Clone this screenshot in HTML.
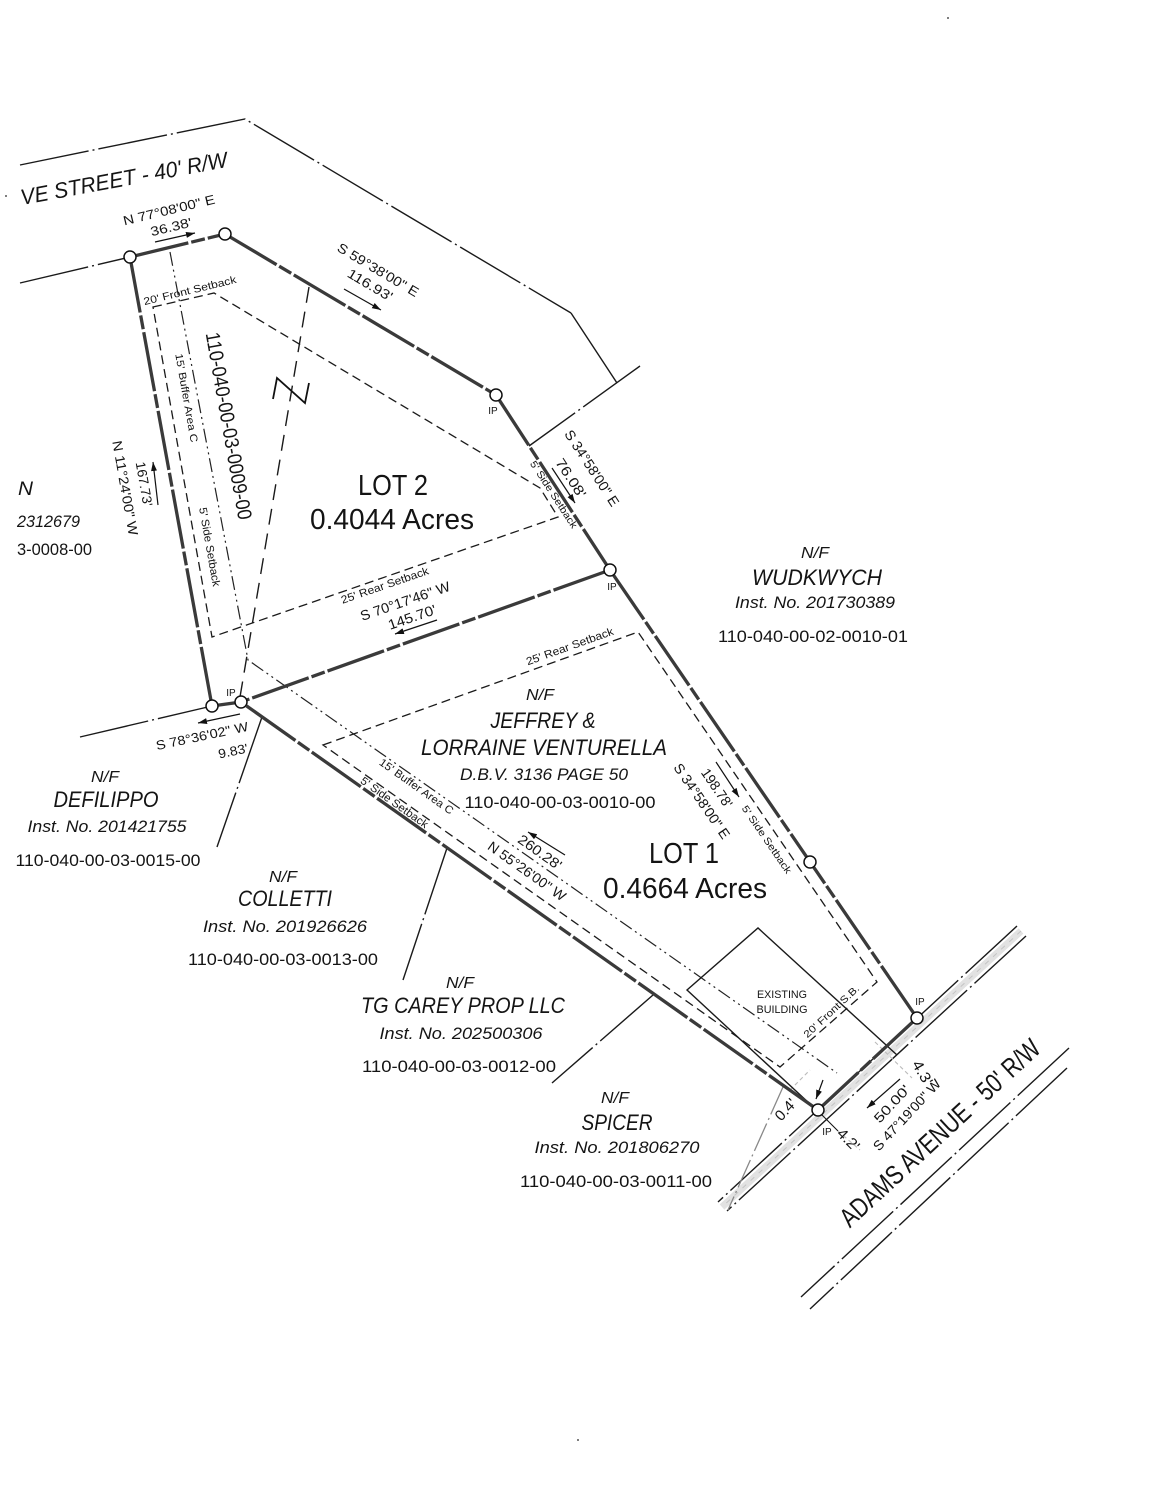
<!DOCTYPE html>
<html>
<head>
<meta charset="utf-8">
<style>
html,body{margin:0;padding:0;background:#fff;}
svg{display:block;}
text{font-family:"Liberation Sans",sans-serif;fill:#141414;}
.it{font-style:italic;}
.r{dominant-baseline:central;text-anchor:middle;}
.c{text-anchor:middle;}
</style>
</head>
<body>
<svg width="1159" height="1500" viewBox="0 0 1159 1500" xmlns="http://www.w3.org/2000/svg">
<defs>
<marker id="ah" markerUnits="userSpaceOnUse" markerWidth="10" markerHeight="8" refX="9" refY="4" orient="auto"><path d="M0,1 L9,4 L0,7 z" fill="#111"/></marker>
</defs>
<rect width="1159" height="1500" fill="#fff"/>

<!-- sidewalk grey band -->
<path d="M1021,931 L722,1207" stroke="#e2e2e2" stroke-width="7" fill="none"/>
<path d="M1021,931 L722,1207" stroke="#c4c4c4" stroke-width="1" stroke-dasharray="5 6" fill="none"/>

<!-- R/W and lot lines (dash-dot) -->
<g fill="none" stroke="#1a1a1a" stroke-width="1.4" stroke-dasharray="70 4 2 4">
  <path d="M20,165 L245,119 L571,313"/>
  <path d="M20,283 L130,257"/>
  <path d="M80,737 L212,706"/>
  <path d="M640,366 L529,446"/>
  <path d="M262,717 L217,847"/>
  <path d="M447,848 L403,980"/>
  <path d="M653,995 L552,1083"/>
  <path d="M1017,926 L718,1202"/>
  <path d="M1026,936 L727,1211"/>
  <path d="M1069,1048 L801,1297"/>
  <path d="M1067,1068 L810,1309"/>
</g>
<path d="M783,1087 L728,1210" stroke="#888" stroke-width="1.3" stroke-dasharray="30 4 2 4" fill="none"/>
<path d="M571,313 L617,383" stroke="#1a1a1a" stroke-width="1.4" fill="none"/>
<g stroke="#bbb" stroke-width="1.1" stroke-dasharray="4 3" fill="none">
  <path d="M875,1042 L912,1078"/>
  <path d="M838,1131 L860,1150"/>
  <path d="M790,1090 L810,1070"/>
</g>

<!-- setbacks -->
<g fill="none" stroke="#1a1a1a" stroke-width="1.3" stroke-dasharray="9 5">
  <path d="M153,307 L214,293 L540,488 L558,517 L212,637 Z"/>
  <path d="M323,745 L638,632 L877,982 L780,1067 Z"/>
</g>

<!-- buffer -->
<path d="M170,252 L248,660 L837,1073" fill="none" stroke="#222" stroke-width="1.2" stroke-dasharray="14 4 2 4 2 4"/>

<!-- north line and symbol -->
<path d="M309,287 L240,697" fill="none" stroke="#1a1a1a" stroke-width="1.4" stroke-dasharray="16 9"/>
<path d="M273,399 L277,378 L305,403 L309,383" fill="none" stroke="#111" stroke-width="1.8"/>

<!-- building -->
<path d="M897,1055 L758,928 L687,990 L810,1104" fill="none" stroke="#1a1a1a" stroke-width="1.4"/>

<!-- boundary -->
<g fill="none" stroke="#3a3a3a" stroke-width="3.3" stroke-dasharray="60 3 14 3">
  <path d="M130,257 L225,234"/>
  <path d="M225,234 L496,395"/>
  <path d="M496,395 L610,570"/>
  <path d="M610,570 L917,1018"/>
  <path d="M917,1018 L818,1110"/>
  <path d="M818,1110 L241,702"/>
  <path d="M241,702 L212,706"/>
  <path d="M212,706 L130,257"/>
  <path d="M610,570 L241,702"/>
</g>

<!-- dimension arrows -->
<g fill="none" stroke="#111" stroke-width="1.2" marker-end="url(#ah)">
  <path d="M155,242 L195,233"/>
  <path d="M344,289 L381,310"/>
  <path d="M158,505 L153,462"/>
  <path d="M437,620 L395,634"/>
  <path d="M552,468 L575,503"/>
  <path d="M716,762 L739,797"/>
  <path d="M565,855 L528,832"/>
  <path d="M240,714 L198,723"/>
  <path d="M900,1079 L867,1108"/>
  <path d="M823,1080 L816,1099"/>
</g>
<path d="M817,1110 L838,1131" stroke="#111" stroke-width="1.1"/>

<!-- nodes -->
<g fill="#fff" stroke="#111" stroke-width="1.5">
  <circle cx="130" cy="257" r="6"/>
  <circle cx="225" cy="234" r="6"/>
  <circle cx="496" cy="395" r="6"/>
  <circle cx="610" cy="570" r="6"/>
  <circle cx="810" cy="862" r="6"/>
  <circle cx="917" cy="1018" r="6"/>
  <circle cx="818" cy="1110" r="6"/>
  <circle cx="241" cy="702" r="6"/>
  <circle cx="212" cy="706" r="6"/>
</g>

<!-- street text -->
<text transform="translate(22,205) rotate(-10.5)" font-size="22" textLength="210" lengthAdjust="spacingAndGlyphs" class="it">VE STREET  -  40' R/W</text>

<!-- top boundary dims -->
<text class="r" transform="translate(169,210) rotate(-13.6)" font-size="13" textLength="94" lengthAdjust="spacingAndGlyphs">N 77°08'00" E</text>
<text class="r" transform="translate(171,227) rotate(-13.6)" font-size="13" textLength="42" lengthAdjust="spacingAndGlyphs">36.38'</text>
<text class="r" transform="translate(378,270) rotate(30.7)" font-size="13.5" textLength="92" lengthAdjust="spacingAndGlyphs">S 59°38'00" E</text>
<text class="r" transform="translate(370,285) rotate(30.7)" font-size="13.5" textLength="50" lengthAdjust="spacingAndGlyphs">116.93'</text>
<text class="r" transform="translate(190,291) rotate(-13.6)" font-size="10.5" textLength="95" lengthAdjust="spacingAndGlyphs">20' Front Setback</text>

<!-- lot 2 vertical texts -->
<text class="r" transform="translate(228,426) rotate(80)" font-size="20" textLength="190" lengthAdjust="spacingAndGlyphs">110-040-00-03-0009-00</text>
<text class="r" transform="translate(186,398) rotate(80)" font-size="10.5" textLength="90" lengthAdjust="spacingAndGlyphs">15' Buffer Area C</text>
<text class="r" transform="translate(209,547) rotate(80)" font-size="11" textLength="80" lengthAdjust="spacingAndGlyphs">5' Side Setback</text>
<text class="r" transform="translate(125,488) rotate(80)" font-size="13.5" textLength="96" lengthAdjust="spacingAndGlyphs">N 11°24'00" W</text>
<text class="r" transform="translate(144,484) rotate(80)" font-size="13.5" textLength="45" lengthAdjust="spacingAndGlyphs">167.73'</text>

<!-- lot 2 -->
<text class="c" x="393" y="495" font-size="29" textLength="70" lengthAdjust="spacingAndGlyphs">LOT 2</text>
<text class="c" x="392" y="529" font-size="29" textLength="164" lengthAdjust="spacingAndGlyphs">0.4044 Acres</text>
<text class="r" transform="translate(385,586) rotate(-19)" font-size="11" textLength="92" lengthAdjust="spacingAndGlyphs">25' Rear Setback</text>
<text class="r" transform="translate(405,601) rotate(-19)" font-size="14" textLength="94" lengthAdjust="spacingAndGlyphs">S 70°17'46" W</text>
<text class="r" transform="translate(412,617) rotate(-19)" font-size="14" textLength="50" lengthAdjust="spacingAndGlyphs">145.70'</text>

<!-- C-D dims -->
<text class="r" transform="translate(592,468) rotate(57)" font-size="14" textLength="88" lengthAdjust="spacingAndGlyphs">S 34°58'00" E</text>
<text class="r" transform="translate(571,478) rotate(57)" font-size="14" textLength="44" lengthAdjust="spacingAndGlyphs">76.08'</text>
<text class="r" transform="translate(553,495) rotate(57)" font-size="10" textLength="78" lengthAdjust="spacingAndGlyphs">5' Side Setback</text>

<!-- IP labels -->
<text class="c" x="493" y="414" font-size="10">IP</text>
<text class="c" x="612" y="590" font-size="10">IP</text>
<text class="c" x="231" y="696" font-size="10">IP</text>
<text class="c" x="920" y="1005" font-size="10">IP</text>
<text class="c" x="827" y="1135" font-size="10">IP</text>

<!-- Wudkwych -->
<text class="c it" x="815" y="558" font-size="16" textLength="28" lengthAdjust="spacingAndGlyphs">N/F</text>
<text class="c it" x="817" y="585" font-size="22" textLength="130" lengthAdjust="spacingAndGlyphs">WUDKWYCH</text>
<text class="c it" x="815" y="608" font-size="17" textLength="160" lengthAdjust="spacingAndGlyphs">Inst. No. 201730389</text>
<text class="c" x="813" y="642" font-size="17" textLength="190" lengthAdjust="spacingAndGlyphs">110-040-00-02-0010-01</text>

<!-- Lot 1 / Venturella -->
<text class="r" transform="translate(570,647) rotate(-19.7)" font-size="11" textLength="92" lengthAdjust="spacingAndGlyphs">25' Rear Setback</text>
<text class="c it" x="540" y="700" font-size="16" textLength="28" lengthAdjust="spacingAndGlyphs">N/F</text>
<text class="c it" x="543" y="728" font-size="22" textLength="105" lengthAdjust="spacingAndGlyphs">JEFFREY &amp;</text>
<text class="c it" x="544" y="755" font-size="22" textLength="246" lengthAdjust="spacingAndGlyphs">LORRAINE VENTURELLA</text>
<text class="c it" x="544" y="780" font-size="17" textLength="168" lengthAdjust="spacingAndGlyphs">D.B.V. 3136 PAGE 50</text>
<text class="c" x="560" y="808" font-size="17" textLength="191" lengthAdjust="spacingAndGlyphs">110-040-00-03-0010-00</text>

<text class="r" transform="translate(717,788) rotate(55.6)" font-size="14" textLength="44" lengthAdjust="spacingAndGlyphs">198.78'</text>
<text class="r" transform="translate(702,801) rotate(55.6)" font-size="14" textLength="88" lengthAdjust="spacingAndGlyphs">S 34°58'00" E</text>
<text class="r" transform="translate(766,840) rotate(55.6)" font-size="10" textLength="80" lengthAdjust="spacingAndGlyphs">5' Side Setback</text>

<text class="c" x="684" y="863" font-size="29" textLength="70" lengthAdjust="spacingAndGlyphs">LOT 1</text>
<text class="c" x="685" y="898" font-size="29" textLength="164" lengthAdjust="spacingAndGlyphs">0.4664 Acres</text>

<text class="r" transform="translate(416,787) rotate(35.3)" font-size="11" textLength="88" lengthAdjust="spacingAndGlyphs">15' Buffer Area C</text>
<text class="r" transform="translate(394,803) rotate(35.3)" font-size="11" textLength="80" lengthAdjust="spacingAndGlyphs">5' Side Setback</text>
<text class="r" transform="translate(540,852) rotate(35.3)" font-size="14" textLength="50" lengthAdjust="spacingAndGlyphs">260.28'</text>
<text class="r" transform="translate(527,871) rotate(35.3)" font-size="14" textLength="92" lengthAdjust="spacingAndGlyphs">N 55°26'00" W</text>

<!-- building & front -->
<text class="c" x="782" y="998" font-size="11" textLength="50" lengthAdjust="spacingAndGlyphs">EXISTING</text>
<text class="c" x="782" y="1013" font-size="11" textLength="51" lengthAdjust="spacingAndGlyphs">BUILDING</text>
<text class="r" transform="translate(832,1012) rotate(-43)" font-size="10" textLength="72" lengthAdjust="spacingAndGlyphs">20' Front S.B.</text>
<text class="r" transform="translate(922,1073) rotate(60)" font-size="15" textLength="26" lengthAdjust="spacingAndGlyphs">4.3'</text>
<text class="r" transform="translate(892,1104) rotate(-47)" font-size="13.5" textLength="46" lengthAdjust="spacingAndGlyphs">50.00'</text>
<text class="r" transform="translate(907,1115) rotate(-47)" font-size="13.5" textLength="92" lengthAdjust="spacingAndGlyphs">S 47°19'00" W</text>
<text class="r" transform="translate(786,1110) rotate(-47)" font-size="15" textLength="24" lengthAdjust="spacingAndGlyphs">0.4'</text>
<text class="r" transform="translate(848,1140) rotate(45)" font-size="15" textLength="25" lengthAdjust="spacingAndGlyphs">4.2'</text>
<text class="r" transform="translate(940,1133) rotate(-42.7)" font-size="27" textLength="262" lengthAdjust="spacingAndGlyphs">ADAMS AVENUE  -  50' R/W</text>

<!-- west small dims -->
<text class="r" transform="translate(202,736) rotate(-12)" font-size="13" textLength="94" lengthAdjust="spacingAndGlyphs">S 78°36'02" W</text>
<text class="r" transform="translate(233,751) rotate(-12)" font-size="13" textLength="30" lengthAdjust="spacingAndGlyphs">9.83'</text>

<!-- Defilippo -->
<text class="c it" x="105" y="782" font-size="16" textLength="28" lengthAdjust="spacingAndGlyphs">N/F</text>
<text class="c it" x="106" y="807" font-size="22" textLength="105" lengthAdjust="spacingAndGlyphs">DEFILIPPO</text>
<text class="c it" x="107" y="832" font-size="17" textLength="159" lengthAdjust="spacingAndGlyphs">Inst. No. 201421755</text>
<text class="c" x="108" y="866" font-size="17" textLength="185" lengthAdjust="spacingAndGlyphs">110-040-00-03-0015-00</text>

<!-- Colletti -->
<text class="c it" x="283" y="882" font-size="16" textLength="28" lengthAdjust="spacingAndGlyphs">N/F</text>
<text class="c it" x="285" y="906" font-size="22" textLength="94" lengthAdjust="spacingAndGlyphs">COLLETTI</text>
<text class="c it" x="285" y="932" font-size="17" textLength="164" lengthAdjust="spacingAndGlyphs">Inst. No. 201926626</text>
<text class="c" x="283" y="965" font-size="17" textLength="190" lengthAdjust="spacingAndGlyphs">110-040-00-03-0013-00</text>

<!-- TG Carey -->
<text class="c it" x="460" y="988" font-size="16" textLength="28" lengthAdjust="spacingAndGlyphs">N/F</text>
<text class="c it" x="463" y="1013" font-size="22" textLength="204" lengthAdjust="spacingAndGlyphs">TG CAREY PROP LLC</text>
<text class="c it" x="461" y="1039" font-size="17" textLength="163" lengthAdjust="spacingAndGlyphs">Inst. No. 202500306</text>
<text class="c" x="459" y="1072" font-size="17" textLength="194" lengthAdjust="spacingAndGlyphs">110-040-00-03-0012-00</text>

<!-- Spicer -->
<text class="c it" x="615" y="1103" font-size="16" textLength="28" lengthAdjust="spacingAndGlyphs">N/F</text>
<text class="c it" x="617" y="1130" font-size="22" textLength="71" lengthAdjust="spacingAndGlyphs">SPICER</text>
<text class="c it" x="617" y="1153" font-size="17" textLength="165" lengthAdjust="spacingAndGlyphs">Inst. No. 201806270</text>
<text class="c" x="616" y="1187" font-size="17" textLength="192" lengthAdjust="spacingAndGlyphs">110-040-00-03-0011-00</text>

<!-- left partial -->
<text class="it" x="18" y="495" font-size="19" textLength="15" lengthAdjust="spacingAndGlyphs">N</text>
<text class="it" x="17" y="527" font-size="17" textLength="63" lengthAdjust="spacingAndGlyphs">2312679</text>
<text x="17" y="555" font-size="17" textLength="75" lengthAdjust="spacingAndGlyphs">3-0008-00</text>

<!-- stray marks -->
<circle cx="948" cy="18" r="1" fill="#555"/>
<circle cx="578" cy="1440" r="1" fill="#555"/>
<circle cx="6" cy="196" r="1" fill="#555"/>
</svg>
</body>
</html>
